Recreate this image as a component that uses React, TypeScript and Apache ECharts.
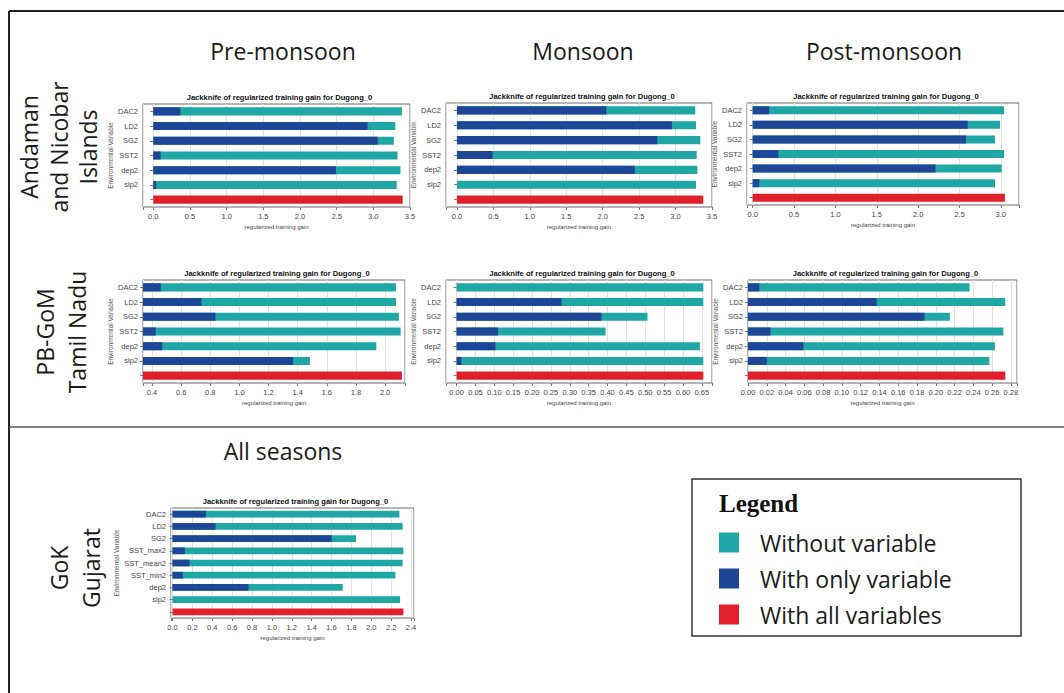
import { useEffect, useRef } from 'react';
import * as echarts from 'echarts';

// ---------- data ----------
const catsSix = ['DAC2', 'LD2', 'SG2', 'SST2', 'dep2', 'slp2', ''];
const catsGuj = ['DAC2', 'LD2', 'SG2', 'SST_max2', 'SST_mean2', 'SST_min2', 'dep2', 'slp2', ''];

const seriesNames = ['Without variable', 'With only variable', 'With all variables'];
const columnHeaders = ['Pre-monsoon', 'Monsoon', 'Post-monsoon'];
const allSeasonsHeader = 'All seasons';
const rowLabels = [['Andaman', 'and Nicobar', 'Islands'], ['PB-GoM', 'Tamil Nadu'], ['GoK', 'Gujarat']];
const chartTitle = 'Jackknife of regularized training gain for Dugong_0';
const xName = 'regularized training gain';
const yName = 'Environmental Variable';

// Andaman and Nicobar Islands
const anPreWithout = [3.39, 3.30, 3.28, 3.33, 3.37, 3.32];
const anPreOnly = [0.37, 2.92, 3.06, 0.10, 2.49, 0.04];
const anPreAll = 3.40;
const anMonWithout = [3.27, 3.28, 3.34, 3.29, 3.30, 3.28];
const anMonOnly = [2.05, 2.95, 2.75, 0.49, 2.44, 0];
const anMonAll = 3.38;
const anPostWithout = [3.04, 2.99, 2.93, 3.04, 3.01, 2.93];
const anPostOnly = [0.20, 2.60, 2.58, 0.31, 2.21, 0.08];
const anPostAll = 3.05;
// PB-GoM Tamil Nadu
const tnPreWithout = [2.075, 2.075, 2.095, 2.107, 1.94, 1.484];
const tnPreOnly = [0.46, 0.74, 0.835, 0.425, 0.47, 1.369];
const tnPreAll = 2.116;
const tnMonWithout = [0.654, 0.654, 0.506, 0.395, 0.645, 0.654];
const tnMonOnly = [0, 0.278, 0.384, 0.110, 0.103, 0.013];
const tnMonAll = 0.654;
const tnPostWithout = [0.236, 0.274, 0.215, 0.272, 0.263, 0.257];
const tnPostOnly = [0.012, 0.137, 0.188, 0.024, 0.059, 0.020];
const tnPostAll = 0.274;
// GoK Gujarat (all seasons)
const gjWithout = [2.283, 2.316, 1.847, 2.323, 2.316, 2.243, 1.713, 2.29];
const gjOnly = [0.335, 0.432, 1.602, 0.124, 0.171, 0.104, 0.764, 0];
const gjAll = 2.323;

// ---------- layout ----------
const TEAL = '#1fa7a6';
const BLUE = '#1e4697';
const RED = '#e2202a';
const INK = '#1a1a1a';

const panels = [
  { left: 143, top: 104, width: 267, height: 103, min: -0.14, max: 3.5, step: 0.5, dec: 1, cats: catsSix, without: anPreWithout, only: anPreOnly, all: anPreAll, yGap: 24 },
  { left: 446, top: 103, width: 266, height: 104, min: -0.15, max: 3.5, step: 0.5, dec: 1, cats: catsSix, without: anMonWithout, only: anMonOnly, all: anMonAll, yGap: 24 },
  { left: 747, top: 103, width: 272, height: 102, min: -0.069, max: 3.22, step: 0.5, dec: 1, cats: catsSix, without: anPostWithout, only: anPostOnly, all: anPostAll, yGap: 24 },
  { left: 143, top: 280, width: 262, height: 103, min: 0.338, max: 2.137, step: 0.2, dec: 1, cats: catsSix, without: tnPreWithout, only: tnPreOnly, all: tnPreAll, yGap: 24 },
  { left: 446, top: 280, width: 266, height: 103, min: -0.028, max: 0.677, step: 0.05, dec: 2, cats: catsSix, without: tnMonWithout, only: tnMonOnly, all: tnMonAll, yGap: 24 },
  { left: 748, top: 280, width: 269, height: 103, min: 0, max: 0.2865, step: 0.02, dec: 2, cats: catsSix, without: tnPostWithout, only: tnPostOnly, all: tnPostAll, yGap: 24 },
  { left: 171, top: 508, width: 243, height: 110, min: -0.015, max: 2.43, step: 0.2, dec: 1, cats: catsGuj, without: gjWithout, only: gjOnly, all: gjAll, yGap: 50 },
];

export default function App() {
  const ref = useRef<HTMLDivElement>(null);

  useEffect(() => {
    if (!ref.current) return;
    const chart = echarts.init(ref.current, undefined, { renderer: 'svg', width: 1064, height: 693 });

    const grid: any[] = [];
    const xAxis: any[] = [];
    const yAxis: any[] = [];
    const series: any[] = [];
    const graphic: any[] = [];

    panels.forEach((p, i) => {
      grid.push({
        left: p.left, top: p.top, width: p.width, height: p.height,
        show: true, borderColor: '#6a6a6a', borderWidth: 1, backgroundColor: '#fff',
      });
      xAxis.push({
        gridIndex: i, type: 'value', min: p.min, max: p.max,
        minInterval: p.step, maxInterval: p.step,
        splitNumber: Math.round((p.max - p.min) / p.step),
        axisLine: { show: false },
        axisTick: { show: true, length: 3, lineStyle: { color: '#777' } },
        axisLabel: {
          fontSize: 7.5, color: '#444', margin: 5, fontFamily: 'Liberation Sans',
          formatter: (v: number) => (Math.abs(v / p.step - Math.round(v / p.step)) < 1e-6 ? v.toFixed(p.dec) : ''),
        },
        splitLine: { show: true, lineStyle: { color: '#e2e2e2', width: 1 } },
        name: xName, nameLocation: 'middle', nameGap: 17,
        nameTextStyle: { fontSize: 6, color: '#444', fontFamily: 'Liberation Sans' },
      });
      yAxis.push({
        gridIndex: i, type: 'category', data: p.cats, inverse: true,
        axisLine: { show: false },
        axisTick: { show: true, length: 3, alignWithLabel: true, lineStyle: { color: '#777' } },
        axisLabel: { fontSize: 7.5, color: '#444', margin: 5, fontFamily: 'Liberation Sans' },
        splitLine: { show: false },
        name: yName, nameLocation: 'middle', nameGap: p.yGap, nameRotate: 90,
        nameTextStyle: { fontSize: 6.5, color: '#555', fontFamily: 'Liberation Sans' },
      });
      const n = p.cats.length - 1;
      const blanks = Array(n).fill('-');
      series.push({
        name: seriesNames[0], type: 'bar', xAxisIndex: i, yAxisIndex: i,
        data: [...p.without, '-'], barWidth: '55%', barGap: '-100%',
        itemStyle: { color: TEAL }, z: 2,
      });
      series.push({
        name: seriesNames[1], type: 'bar', xAxisIndex: i, yAxisIndex: i,
        data: [...p.only, '-'], barWidth: '55%', barGap: '-100%',
        itemStyle: { color: BLUE }, z: 3,
      });
      series.push({
        name: seriesNames[2], type: 'bar', xAxisIndex: i, yAxisIndex: i,
        data: [...blanks, p.all], barWidth: '55%', barGap: '-100%',
        itemStyle: { color: RED }, z: 3,
      });
      graphic.push({
        type: 'text', x: p.left + p.width / 2 + 3, y: p.top - 7,
        style: { text: chartTitle, fontSize: 7.6, fontWeight: 'bold', fontFamily: 'Liberation Sans', fill: '#111', align: 'center', verticalAlign: 'middle' },
      });
    });

    // frame lines
    graphic.push({ type: 'line', shape: { x1: 9, y1: 11, x2: 1064, y2: 11 }, style: { stroke: '#222', lineWidth: 2 } });
    graphic.push({ type: 'line', shape: { x1: 9, y1: 11, x2: 9, y2: 693 }, style: { stroke: '#222', lineWidth: 2 } });
    graphic.push({ type: 'line', shape: { x1: 9, y1: 427, x2: 1064, y2: 427 }, style: { stroke: '#555', lineWidth: 1.5 } });

    // column headers
    const headerX = [283, 583, 884];
    columnHeaders.forEach((h, i) => {
      graphic.push({
        type: 'text', x: headerX[i], y: 51,
        style: { text: h, fontSize: 23, fontFamily: 'Open Sans', fill: INK, align: 'center', verticalAlign: 'middle' },
      });
    });
    graphic.push({
      type: 'text', x: 283, y: 451,
      style: { text: allSeasonsHeader, fontSize: 23, fontFamily: 'Open Sans', fill: INK, align: 'center', verticalAlign: 'middle' },
    });

    // row labels (rotated, one text per line)
    const rowPos = [
      { xs: [29, 59, 88], y: 147 },
      { xs: [45, 77], y: 332 },
      { xs: [59, 91], y: 568 },
    ];
    rowLabels.forEach((lines, i) => {
      lines.forEach((line, j) => {
        graphic.push({
          type: 'text', x: rowPos[i].xs[j], y: rowPos[i].y, rotation: Math.PI / 2,
          style: { text: line, fontSize: 23, fontFamily: 'Open Sans', fill: INK, align: 'center', verticalAlign: 'middle' },
        });
      });
    });

    // legend box
    graphic.push({ type: 'rect', shape: { x: 692, y: 479, width: 329, height: 157 }, style: { fill: 'none', stroke: '#333', lineWidth: 1.5 } });
    graphic.push({
      type: 'text', x: 719, y: 503,
      style: { text: 'Legend', fontSize: 25, fontWeight: 'bold', fontFamily: 'Liberation Serif', fill: '#111', align: 'left', verticalAlign: 'middle' },
    });

    chart.setOption({
      animation: false,
      backgroundColor: '#fff',
      grid, xAxis, yAxis, series, graphic,
      legend: {
        data: seriesNames, orient: 'vertical', left: 719, top: 531,
        itemWidth: 20, itemHeight: 20, itemGap: 13, icon: 'rect', selectedMode: false, padding: 0,
        textStyle: { fontSize: 23, fontFamily: 'Open Sans', color: INK, padding: [0, 0, 0, 16] },
      },
    });

    return () => chart.dispose();
  }, []);

  return (
    <div
      ref={ref}
      style={{ position: 'fixed', left: 0, top: 0, width: 1064, height: 693, background: '#fff' }}
    />
  );
}
